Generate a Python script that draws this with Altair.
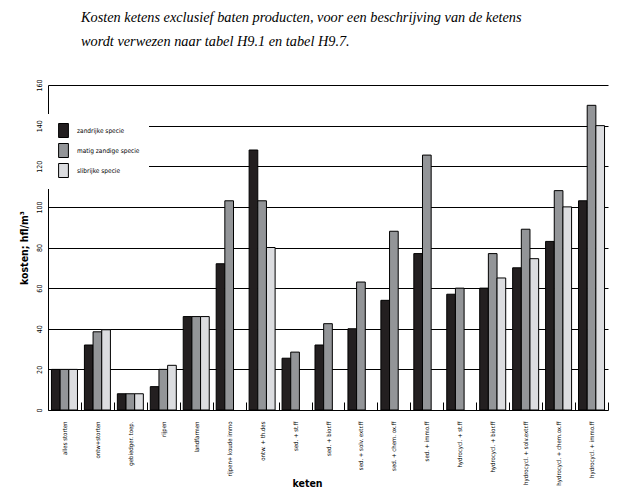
import altair as alt
import pandas as pd

categories = [
    "alles storten", "ontw+storten", "gebiedger. toep.", "rijpen", "landfarmen",
    "rijpen+ koude immo", "ontw. + th.des", "sed. + st.ff", "sed. + bior.ff",
    "sed. + solv. extr.ff", "sed. + chem. ox.ff", "sed. + immo.ff",
    "hydrocycl. + st.ff", "hydrocycl. + bior.ff", "hydrocycl. + solv.extr.ff",
    "hydrocycl. + chem.ox.ff", "hydrocycl. + immo.ff",
]
series = ["zandrijke specie", "matig zandige specie", "slibrijke specie"]
zandrijke = [20, 32, 8, 11.5, 46, 72, 128, 25.5, 32, 40, 54, 77, 57, 60, 70, 83, 103]
matig = [20, 38.5, 8, 20, 46, 103, 103, 28.5, 42.5, 63, 88, 125.5, 60, 77, 89, 108, 150]
slibrijke = [20, 39.5, 8, 22, 46, None, 80, None, None, None, None, None, None, 65, 74.5, 100, 140]
colors = ["#231f20", "#939598", "#dcdde0"]
y_ticks = [0, 20, 40, 60, 80, 100, 120, 140, 160]

rows = []
for name, vals in zip(series, [zandrijke, matig, slibrijke]):
    for c, v in zip(categories, vals):
        if v is not None:
            rows.append({"keten": c, "serie": name, "kosten": v})
df = pd.DataFrame(rows)

font = "DejaVu Sans Condensed, Liberation Sans Narrow, Liberation Sans, sans-serif"

chart = alt.Chart(df).mark_bar(stroke="black", strokeWidth=1).encode(
    x=alt.X("keten:N", sort=categories,
            scale=alt.Scale(paddingInner=0, paddingOuter=0),
            axis=alt.Axis(title="keten", labelAngle=270, labelAlign="right",
                          labelBaseline="middle", labelFont=font, labelFontSize=6,
                          labelColor="black", labelPadding=11, tickBand="extent",
                          tickSize=8, tickColor="black", tickWidth=1,
                          domain=False, offset=-8, titleFont=font, titleFontSize=10.5,
                          titleFontWeight="bold", titleColor="black",
                          titleX=244, titleY=84, titleBaseline="alphabetic",
                          titleAnchor="start", zindex=0)),
    xOffset=alt.XOffset("serie:N", sort=series,
                        scale=alt.Scale(domain=series, paddingInner=0, paddingOuter=0.4)),
    y=alt.Y("kosten:Q", scale=alt.Scale(domain=[0, 160], nice=False),
            axis=alt.Axis(title="kosten; hfl/m³", values=y_ticks, labelAngle=270,
                          labelAlign="center", labelBaseline="bottom", labelFont=font,
                          labelFontSize=7, labelColor="black", labelPadding=6,
                          ticks=False, domainColor="black", domainWidth=1,
                          gridColor="black", gridWidth=1.2, gridOpacity=1,
                          titleFont=font, titleFontSize=10.5, titleFontWeight="bold",
                          titleColor="black", titlePadding=6, zindex=0)),
    color=alt.Color("serie:N", sort=series,
                    scale=alt.Scale(domain=series, range=colors),
                    legend=alt.Legend(title=None, orient="none", legendX=-1, legendY=29,
                                      fillColor="white", padding=9,
                                      symbolType="M-0.7,-1H0.7V1H-0.7Z", symbolSize=196,
                                      symbolStrokeColor="black", symbolStrokeWidth=1,
                                      symbolOpacity=1, rowPadding=1, labelFont=font,
                                      labelFontSize=6.5, labelColor="black",
                                      labelOffset=6, zindex=1)),
).properties(
    width=560, height=325,
    title=alt.TitleParams(
        ["Kosten ketens exclusief baten producten, voor een beschrijving van de ketens",
         "wordt verwezen naar tabel H9.1 en tabel H9.7."],
        anchor="start", dx=62, offset=30, font="Liberation Serif", fontStyle="italic",
        fontWeight="normal", fontSize=14.3, lineHeight=24, color="black"),
    autosize=alt.AutoSizeParams(type="none"),
    padding={"left": 40, "top": 77, "right": 4, "bottom": 79},
).configure_view(stroke=None)

chart.save("out.html", embed_options={"renderer": "svg", "actions": False})
